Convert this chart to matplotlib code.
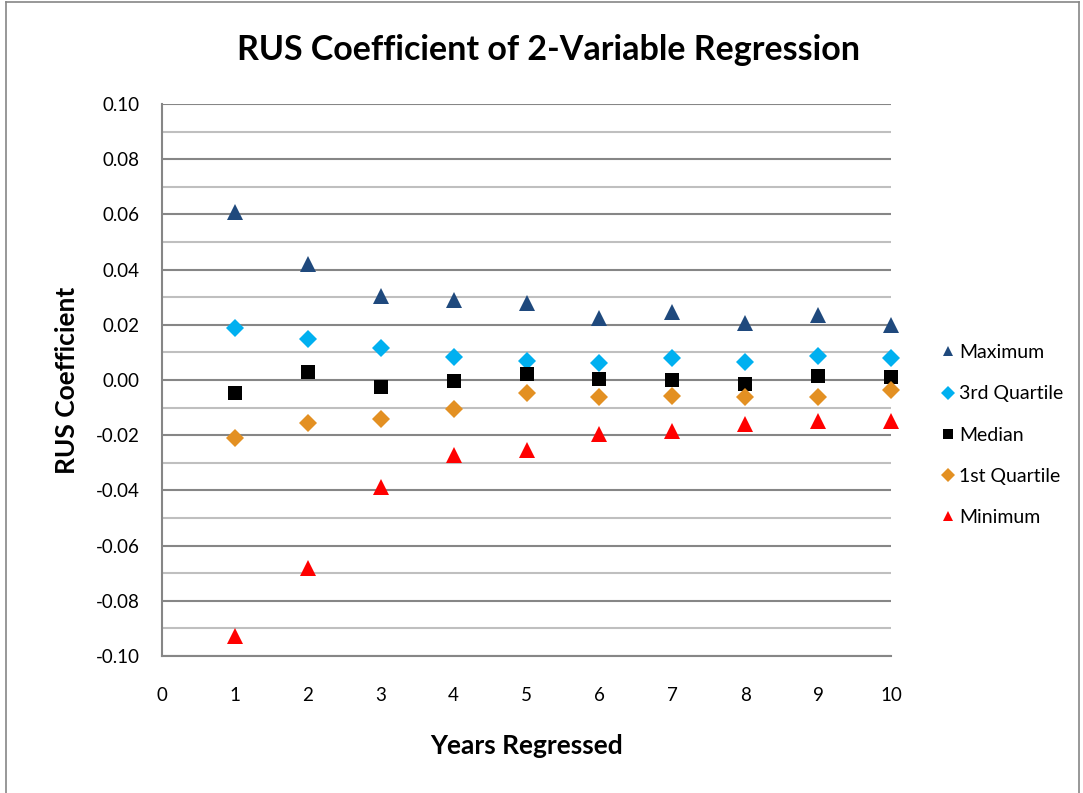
import matplotlib
matplotlib.use("Agg")
import matplotlib.pyplot as plt
from matplotlib.lines import Line2D

years = [1, 2, 3, 4, 5, 6, 7, 8, 9, 10]
maximum = [0.0607, 0.0420, 0.0304, 0.0290, 0.0280, 0.0225, 0.0247, 0.0206, 0.0235, 0.0200]
q3 = [0.0188, 0.0148, 0.0117, 0.0085, 0.0069, 0.0062, 0.0080, 0.0066, 0.0086, 0.0080]
median = [-0.0046, 0.0030, -0.0025, -0.0005, 0.0023, 0.0004, 0.0001, -0.0013, 0.0013, 0.0011]
q1 = [-0.0209, -0.0155, -0.0142, -0.0104, -0.0046, -0.0060, -0.0058, -0.0063, -0.0063, -0.0035]
minimum = [-0.0926, -0.0680, -0.0386, -0.0272, -0.0252, -0.0197, -0.0183, -0.0160, -0.0149, -0.0147]

series = [
    ("Maximum", maximum, "^", "#1F497D", 11),
    ("3rd Quartile", q3, "D", "#00B0F0", 9),
    ("Median", median, "s", "#000000", 10),
    ("1st Quartile", q1, "D", "#E39022", 9),
    ("Minimum", minimum, "^", "#FF0000", 11),
]

plt.rcParams['font.family'] = ['Lato', 'DejaVu Sans']

fig = plt.figure(figsize=(10.83, 7.93), dpi=100)
ax = fig.add_axes([162/1083, 1-656/793, (891-162)/1083, (656-104)/793])

for name, vals, m, c, s in series:
    ax.plot(years, vals, linestyle='none', marker=m, color=c, markersize=s,
            markeredgewidth=0, label=name, zorder=3, clip_on=False)

ax.set_xlim(0, 10)
ax.set_ylim(-0.10, 0.10)
ax.set_xticks(range(0, 11))
ax.set_yticks([i/100 for i in range(-10, 11, 2)])
ax.set_yticklabels([f"{v/100:.2f}" for v in range(-10, 11, 2)])
ax.set_yticks([i/100 for i in range(-9, 10, 2)], minor=True)
ax.tick_params(axis='both', which='both', length=0, labelsize=13.5, colors='black')
ax.tick_params(axis='y', pad=16)
ax.tick_params(axis='x', pad=22)
ax.grid(True, which='major', axis='y', color='#868686', linewidth=1.5)
ax.grid(True, which='minor', axis='y', color='#BFBFBF', linewidth=1.5)
ax.set_axisbelow(True)
for sp in ['top', 'right']:
    ax.spines[sp].set_visible(False)
for sp in ['left', 'bottom']:
    ax.spines[sp].set_color('#868686')
    ax.spines[sp].set_linewidth(1.5)

ax.set_xlabel("Years Regressed", fontsize=19, fontweight='bold', labelpad=22)
ax.set_ylabel("RUS Coefficient", fontsize=19, fontweight='bold', labelpad=12)
fig.text(548/1083, 1-50/793, "RUS Coefficient of 2-Variable Regression",
         ha='center', va='center', fontsize=24.5, fontweight='bold')

handles = [Line2D([], [], linestyle='none', marker=m, color=c, markersize=7,
                  markeredgewidth=0) for _, _, m, c, _ in series]
leg = fig.legend(handles, [s[0] for s in series], loc='center left',
                 bbox_to_anchor=(936/1083, 1-435/793), frameon=False,
                 fontsize=14, handletextpad=0.0, labelspacing=1.24,
                 handlelength=1.2, borderaxespad=0, borderpad=0)

# chart outer border
fig.add_artist(Line2D([6/1083, 6/1083], [0, 1-2/793], transform=fig.transFigure, color='#868686', lw=1.2))
fig.add_artist(Line2D([6/1083, 1079/1083], [1-2/793, 1-2/793], transform=fig.transFigure, color='#868686', lw=1.2))
fig.add_artist(Line2D([1079/1083, 1079/1083], [0, 1-2/793], transform=fig.transFigure, color='#868686', lw=1.2))

fig.savefig("out.png", dpi=100)
